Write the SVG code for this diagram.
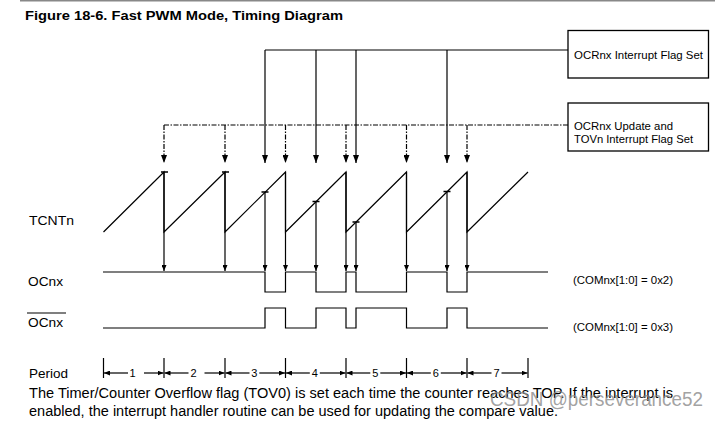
<svg xmlns="http://www.w3.org/2000/svg" width="718" height="426" viewBox="0 0 718 426">
<style>
text{font-family:"Liberation Sans",Arial,sans-serif;fill:#000}
.ln{stroke:#000;stroke-width:1.2;fill:none}
.dd{stroke:#000;stroke-width:1.2;fill:none;stroke-dasharray:5 1.5 1.5 1.5}
.box{fill:#fff;stroke:#000;stroke-width:1.3}
.lbl{font-size:13px}
.bt{font-size:11px}
.num{font-size:11px}
.com{font-size:10px}
.para{font-size:14px}
.aB{marker-end:url(#big)}
.aS{marker-end:url(#sm)}
.aP{marker-end:url(#pa)}
</style>
<defs>
<marker id="big" markerUnits="userSpaceOnUse" markerWidth="8" markerHeight="6" viewBox="0 0 8 6" refX="8" refY="3" orient="auto"><path d="M0,0 L8,3 L0,6 z" fill="#000"/></marker>
<marker id="sm" markerUnits="userSpaceOnUse" markerWidth="6" markerHeight="5" viewBox="0 0 6 5" refX="6" refY="2.5" orient="auto"><path d="M0,0 L6,2.5 L0,5 z" fill="#000"/></marker>
<marker id="pa" markerUnits="userSpaceOnUse" markerWidth="6" markerHeight="5" viewBox="0 0 6 5" refX="6" refY="2.5" orient="auto"><path d="M0,0 L6,2.5 L0,5 z" fill="#000"/></marker>
</defs>
<rect width="718" height="426" fill="#fff"/>
<line x1="20" y1="0.7" x2="715" y2="0.7" stroke="#888" stroke-width="1.5"/>
<g id="title"><text x="25" y="20" font-size="13" font-weight="bold" textLength="318" lengthAdjust="spacingAndGlyphs">Figure 18-6.  Fast PWM Mode, Timing Diagram</text></g>

<g id="box-ocf">
<rect class="box" x="568" y="30.5" width="140.5" height="47.5"/>
<text class="bt" x="574" y="59" textLength="129" lengthAdjust="spacingAndGlyphs">OCRnx Interrupt Flag Set</text>
</g>
<g id="box-tov">
<rect class="box" x="568" y="103" width="140.5" height="48"/>
<text class="bt" x="574" y="130" textLength="99" lengthAdjust="spacingAndGlyphs">OCRnx Update and</text>
<text class="bt" x="574" y="142.5" textLength="119" lengthAdjust="spacingAndGlyphs">TOVn Interrupt Flag Set</text>
</g>

<g id="labels">
<text class="lbl" x="29" y="225" textLength="45" lengthAdjust="spacingAndGlyphs">TCNTn</text>
<text class="lbl" x="28" y="286" textLength="35" lengthAdjust="spacingAndGlyphs">OCnx</text>
<line x1="27" y1="313" x2="66" y2="313" stroke="#000" stroke-width="1.2"/>
<text class="lbl" x="28" y="327" textLength="35" lengthAdjust="spacingAndGlyphs">OCnx</text>
<text class="lbl" x="29" y="378" textLength="39" lengthAdjust="spacingAndGlyphs">Period</text>
<text class="com" x="573" y="284" textLength="100" lengthAdjust="spacingAndGlyphs">(COMnx[1:0] = 0x2)</text>
<text class="com" x="573" y="331" textLength="100" lengthAdjust="spacingAndGlyphs">(COMnx[1:0] = 0x3)</text>
</g>

<g id="connectors">
<!-- OCRnx interrupt flag (solid) -->
<path class="ln" d="M265,50 H568"/>
<line class="ln aB" x1="265" y1="50" x2="265" y2="163"/>
<line class="ln aB" x1="316" y1="50" x2="316" y2="163"/>
<line class="ln aB" x1="356" y1="50" x2="356" y2="163"/>
<line class="ln aB" x1="447" y1="50" x2="447" y2="163"/>
<!-- OCRnx update / TOV (dash-dot) -->
<path class="dd" d="M164,125 H568"/>
<line class="dd aB" x1="164" y1="125" x2="164" y2="163"/>
<line class="dd aB" x1="225" y1="125" x2="225" y2="163"/>
<line class="dd aB" x1="285.5" y1="125" x2="285.5" y2="163"/>
<line class="dd aB" x1="346" y1="125" x2="346" y2="163"/>
<line class="dd aB" x1="406.5" y1="125" x2="406.5" y2="163"/>
<line class="dd aB" x1="467" y1="125" x2="467" y2="163"/>
<!-- down to OCnx -->
<line class="ln aS" x1="164" y1="172" x2="164" y2="271"/>
<line class="ln aS" x1="225" y1="172" x2="225" y2="271"/>
<line class="ln aS" x1="265" y1="192" x2="265" y2="271"/>
<line class="ln aS" x1="285.5" y1="172" x2="285.5" y2="271"/>
<line class="ln aS" x1="316" y1="201.5" x2="316" y2="271"/>
<line class="ln aS" x1="346" y1="172" x2="346" y2="271"/>
<line class="ln aS" x1="356" y1="222" x2="356" y2="271"/>
<line class="ln aS" x1="406.5" y1="172" x2="406.5" y2="271"/>
<line class="ln aS" x1="447" y1="191.5" x2="447" y2="271"/>
<line class="ln aS" x1="467" y1="172" x2="467" y2="271"/>
</g>

<g id="tcnt">
<path class="ln" d="M103.5,232 L164,172 V232 L225,172 V232 L285.5,172 V232 L346,172 V232 L406.5,172 V232 L467,172 V232 L528,172"/>
<path stroke="#000" stroke-width="1.6" fill="none" d="M161,172 H168 M222,172 H229 M261.5,192 H268.5 M312.5,201.5 H319.5 M352.5,222 H359.5 M443.5,191.5 H450.5"/>
</g>

<g id="ocnx">
<path class="ln" d="M103,272 H265 V292 H285.5 V272 H316 V292 H346 V272 H356 V292 H406.5 V272 H447 V292 H467 V272 H548"/>
</g>
<g id="ocnx-bar">
<path class="ln" d="M103,328 H265 V308 H285.5 V328 H316 V308 H346 V328 H356 V308 H406.5 V328 H447 V308 H467 V328 H548"/>
</g>

<g id="period">
<path class="ln" d="M103.5,358 V378 M164,358 V378 M225,358 V378 M285.5,358 V378 M346,358 V378 M406.5,358 V378 M467,358 V378 M528,358 V378"/>
<line class="ln aP" x1="128" y1="373" x2="104" y2="373"/>
<line class="ln aP" x1="144" y1="373" x2="163.5" y2="373"/>
<line class="ln aP" x1="188.5" y1="373" x2="164.5" y2="373"/>
<line class="ln aP" x1="204.5" y1="373" x2="224.5" y2="373"/>
<line class="ln aP" x1="249.5" y1="373" x2="225.5" y2="373"/>
<line class="ln aP" x1="259.3" y1="373" x2="285" y2="373"/>
<line class="ln aP" x1="309.8" y1="373" x2="286" y2="373"/>
<line class="ln aP" x1="319.8" y1="373" x2="345.5" y2="373"/>
<line class="ln aP" x1="370.3" y1="373" x2="346.5" y2="373"/>
<line class="ln aP" x1="380.3" y1="373" x2="406" y2="373"/>
<line class="ln aP" x1="430.8" y1="373" x2="407" y2="373"/>
<line class="ln aP" x1="440.8" y1="373" x2="466.5" y2="373"/>
<line class="ln aP" x1="491.5" y1="373" x2="467.5" y2="373"/>
<line class="ln aP" x1="501.5" y1="373" x2="527.5" y2="373"/>
<g class="num" text-anchor="middle">
<text class="num" x="132.5" y="377">1</text>
<text class="num" x="193.5" y="377">2</text>
<text class="num" x="254.3" y="377">3</text>
<text class="num" x="314.8" y="377">4</text>
<text class="num" x="375.3" y="377">5</text>
<text class="num" x="435.8" y="377">6</text>
<text class="num" x="496.5" y="377">7</text>
</g>
</g>

<g id="caption">
<text class="para" x="29" y="398" textLength="644" lengthAdjust="spacingAndGlyphs">The Timer/Counter Overflow flag (TOV0) is set each time the counter reaches TOP. If the interrupt is</text>
<text class="para" x="29" y="416" textLength="529" lengthAdjust="spacingAndGlyphs">enabled, the interrupt handler routine can be used for updating the compare value.</text>
</g>
<g id="watermark"><text x="490" y="406" font-size="20" fill="#8a8a8a" fill-opacity="0.8" textLength="213" lengthAdjust="spacingAndGlyphs" style="fill:#8a8a8a">CSDN @perseverance52</text></g>
</svg>
